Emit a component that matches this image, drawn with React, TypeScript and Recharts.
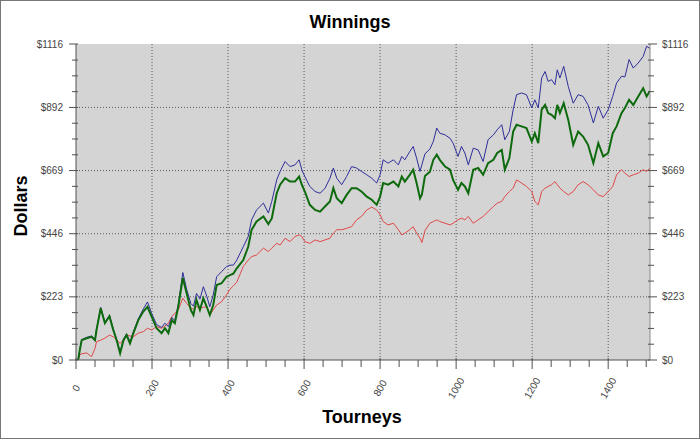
import { CartesianGrid, Line, LineChart, XAxis, YAxis } from "recharts";

// tourney number at each sample
const tourneys = [
  0, 5, 10, 15, 28, 41, 50, 54, 65, 76, 88, 98, 107, 116, 125, 133, 142, 151, 164, 177,
  188, 199, 212, 225, 234, 243, 252, 260, 269, 281, 291, 302, 309, 317, 326, 335, 344, 352, 361, 370,
  383, 396, 405, 414,
  423, 440, 453, 462, 475, 493, 506, 515, 528, 537, 550, 563, 576, 587, 594, 602, 615, 629, 642, 655,
  668, 677, 686, 699, 712, 725, 738, 751, 765, 778, 791, 800, 808, 821, 835, 848, 857, 865, 878, 887,
  896, 905, 910, 918, 931, 940,
  949, 957, 971, 984, 992, 1005, 1014, 1023, 1032, 1045, 1058, 1071, 1084, 1098, 1108, 1120, 1128, 1140, 1150, 1159,
  1172, 1185, 1199, 1207, 1216, 1225, 1234, 1242, 1251, 1260, 1266, 1273, 1283, 1295, 1308, 1321, 1334, 1347, 1361, 1374,
  1387, 1400, 1412, 1422, 1435, 1444, 1455, 1466, 1479, 1492, 1501, 1510,
];

const blueWinnings = [
  0, -4, 37, 72, 80, 85, 73, 108, 186, 133, 158, 110, 73, 28, 74, 92, 64, 100, 146, 180,
  205, 165, 125, 115, 130, 118, 150, 140, 195, 309, 250, 200, 190, 235, 215, 259, 225, 188, 230, 294,
  312, 330, 335, 335,
  353, 400, 436, 495, 530, 554, 519, 560, 636, 666, 701, 683, 689, 707, 672, 648, 613, 595, 589, 606,
  642, 678, 642, 619, 648, 683, 678, 666, 654, 642, 625, 654, 707, 695, 707, 689, 719, 707, 736, 754,
  713, 666, 690, 728, 745, 772,
  819, 801, 795, 783, 766, 719, 754, 731, 689, 748, 742, 701, 778, 795, 813, 831, 778, 807, 884, 937,
  943, 937, 890, 919, 890, 996, 1019, 984, 990, 972, 1025, 996, 1037, 966, 907, 937, 931, 901, 837, 896,
  854, 884, 931, 978, 1002, 1000, 1061, 1031, 1049, 1072, 1108, 1100,
];

const greenWinnings = [
  0, -6, 35, 70, 77, 82, 70, 106, 183, 130, 155, 106, 70, 24, 70, 88, 59, 95, 141, 171,
  188, 153, 112, 95, 112, 95, 141, 130, 188, 290, 236, 177, 159, 212, 177, 218, 188, 159, 194, 265,
  271, 294, 300, 305,
  324, 353, 400, 460, 489, 507, 480, 500, 589, 619, 642, 630, 630, 648, 619, 595, 548, 530, 524, 542,
  560, 607, 571, 554, 583, 607, 607, 595, 577, 566, 548, 577, 625, 619, 630, 613, 648, 630, 654, 672,
  625, 571, 585, 650, 665, 707,
  725, 707, 683, 672, 636, 601, 625, 613, 589, 672, 678, 654, 695, 707, 731, 742, 672, 713, 807, 831,
  825, 819, 772, 801, 766, 884, 901, 872, 866, 854, 901, 872, 907, 848, 760, 807, 789, 760, 695, 766,
  719, 731, 801, 825, 872, 890, 919, 901, 931, 960, 931, 950,
];

const redWinnings = [
  0, -3, 18, 22, 25, 12, 41, 65, 70, 77, 88, 82, 70, 59, 70, 88, 85, 82, 95, 100,
  112, 106, 118, 112, 120, 130, 153, 165, 177, 218, 200, 183, 180, 188, 183, 186, 188, 159, 177, 194,
  206, 230, 250, 262,
  275, 330, 353, 365, 371, 395, 383, 395, 412, 406, 430, 418, 436, 442, 436, 418, 412, 424, 418, 424,
  430, 448, 460, 460, 465, 471, 495, 507, 530, 540, 530, 513, 489, 477, 483, 460, 442, 448, 460, 471,
  448, 430, 415, 457, 483, 489,
  495, 489, 483, 477, 483, 495, 501, 495, 507, 483, 495, 507, 524, 542, 554, 560, 577, 595, 607, 636,
  625, 613, 595, 560, 548, 595, 607, 613, 619, 630, 619, 607, 595, 583, 595, 619, 630, 619, 601, 583,
  577, 595, 613, 654, 672, 660, 648, 654, 660, 672, 666, 678,
];

const yMajorTicks = [0, 223, 446, 669, 892, 1116];
const yMinorTicks = [
  55.75, 111.5, 167.25, 278.75, 334.5, 390.25, 501.75, 557.5, 613.25, 724.75, 780.5, 836.25, 947.75, 1003.5, 1059.25,
];
const xMajorTicks = [0, 200, 400, 600, 800, 1000, 1200, 1400];
const xMinorTicks = [50, 100, 150, 250, 300, 350, 450, 500, 550, 650, 700, 750, 850, 900, 950, 1050, 1100, 1150, 1250, 1300, 1350, 1450, 1500];

const yTicks = [...yMajorTicks, ...yMinorTicks].sort((a, b) => a - b);
const xTicks = [...xMajorTicks, ...xMinorTicks].sort((a, b) => a - b);

const rows = tourneys.map((t, i) => ({
  t,
  blue: blueWinnings[i],
  green: greenWinnings[i],
  red: redWinnings[i],
}));

const FONT = '"Liberation Sans", Arial, sans-serif';
const AXIS = "#505050";

function LeftTick({ x, y, payload }: any) {
  const major = yMajorTicks.includes(payload.value);
  return (
    <g>
      <line x1={x - (major ? 7 : 4)} x2={x + 2} y1={y} y2={y} stroke={AXIS} />
      {major && (
        <text x={x - 13} y={y} dy={3.5} textAnchor="end" fontSize={10} fill="#444" fontFamily={FONT}>
          {"$" + payload.value}
        </text>
      )}
    </g>
  );
}

function RightTick({ x, y, payload }: any) {
  const major = yMajorTicks.includes(payload.value);
  return (
    <g>
      <line x1={x - 2} x2={x + (major ? 7 : 4)} y1={y} y2={y} stroke={AXIS} />
      {major && (
        <text x={x + 12} y={y} dy={3.5} textAnchor="start" fontSize={10} fill="#444" fontFamily={FONT}>
          {"$" + payload.value}
        </text>
      )}
    </g>
  );
}

function BottomTick({ x, y, payload }: any) {
  const major = xMajorTicks.includes(payload.value);
  const ly = y + 28;
  return (
    <g>
      <line x1={x} x2={x} y1={major ? y - 2 : y} y2={y + (major ? 9 : 7)} stroke={AXIS} />
      {major && (
        <text
          x={x}
          y={ly}
          dy={3.5}
          textAnchor="middle"
          fontSize={10}
          fill="#444"
          fontFamily={FONT}
          transform={`rotate(-60 ${x} ${ly})`}
        >
          {payload.value}
        </text>
      )}
    </g>
  );
}

function TopTick({ x, y }: any) {
  return <line x1={x} x2={x} y1={y} y2={y + 3} stroke={AXIS} />;
}

export default function App() {
  return (
    <div style={{ position: "absolute", left: 0, top: 0, width: 700, height: 439, background: "#fff" }}>
      <LineChart width={700} height={439} data={rows} margin={{ top: 44, right: 0, bottom: 0, left: 0 }}>
        <CartesianGrid
          yAxisId="left"
          fill="#d4d4d4"
          fillOpacity={1}
          stroke="#5a5a5a"
          strokeDasharray="1 2"
          horizontalValues={yMajorTicks.slice(1, -1)}
          verticalValues={xMajorTicks.slice(1)}
        />
        <XAxis
          dataKey="t"
          type="number"
          domain={[0, 1510]}
          ticks={xTicks}
          interval={0}
          allowDataOverflow
          height={79}
          tickSize={0}
          tickMargin={0}
          tickLine={false}
          axisLine={{ stroke: AXIS }}
          tick={<BottomTick />}
        />
        <XAxis
          xAxisId="top"
          orientation="top"
          dataKey="t"
          type="number"
          domain={[0, 1510]}
          ticks={xTicks}
          interval={0}
          allowDataOverflow
          height={0}
          tickSize={0}
          tickMargin={0}
          tickLine={false}
          axisLine={{ stroke: "#8a8a8a" }}
          tick={<TopTick />}
        />
        <YAxis
          yAxisId="left"
          type="number"
          domain={[0, 1116]}
          ticks={yTicks}
          interval={0}
          allowDataOverflow
          width={76}
          tickSize={0}
          tickMargin={0}
          tickLine={false}
          axisLine={{ stroke: AXIS }}
          tick={<LeftTick />}
        />
        <YAxis
          yAxisId="right"
          orientation="right"
          type="number"
          domain={[0, 1116]}
          ticks={yTicks}
          interval={0}
          allowDataOverflow
          width={50}
          tickSize={0}
          tickMargin={0}
          tickLine={false}
          axisLine={{ stroke: "#8a8a8a" }}
          tick={<RightTick />}
        />
        <Line yAxisId="left" type="linear" dataKey="red" stroke="#e04848" strokeWidth={1} dot={false} isAnimationActive={false} />
        <Line yAxisId="left" type="linear" dataKey="blue" stroke="#2e2e9a" strokeWidth={1} dot={false} isAnimationActive={false} />
        <Line yAxisId="left" type="linear" dataKey="green" stroke="#0d6a0d" strokeWidth={2} dot={false} isAnimationActive={false} />
      </LineChart>
      <svg width={700} height={439} style={{ position: "absolute", left: 0, top: 0, pointerEvents: "none" }}>
        <text x={350} y={28} textAnchor="middle" fontSize={18} fontWeight="bold" fontFamily={FONT} fill="#000">
          Winnings
        </text>
        <text
          x={27}
          y={206}
          textAnchor="middle"
          fontSize={18}
          fontWeight="bold"
          fontFamily={FONT}
          fill="#000"
          transform="rotate(-90 27 206)"
        >
          Dollars
        </text>
        <text x={362} y={423} textAnchor="middle" fontSize={18} fontWeight="bold" fontFamily={FONT} fill="#000">
          Tourneys
        </text>
        <rect x={0.5} y={0.5} width={699} height={438} fill="none" stroke="#777" />
      </svg>
    </div>
  );
}
